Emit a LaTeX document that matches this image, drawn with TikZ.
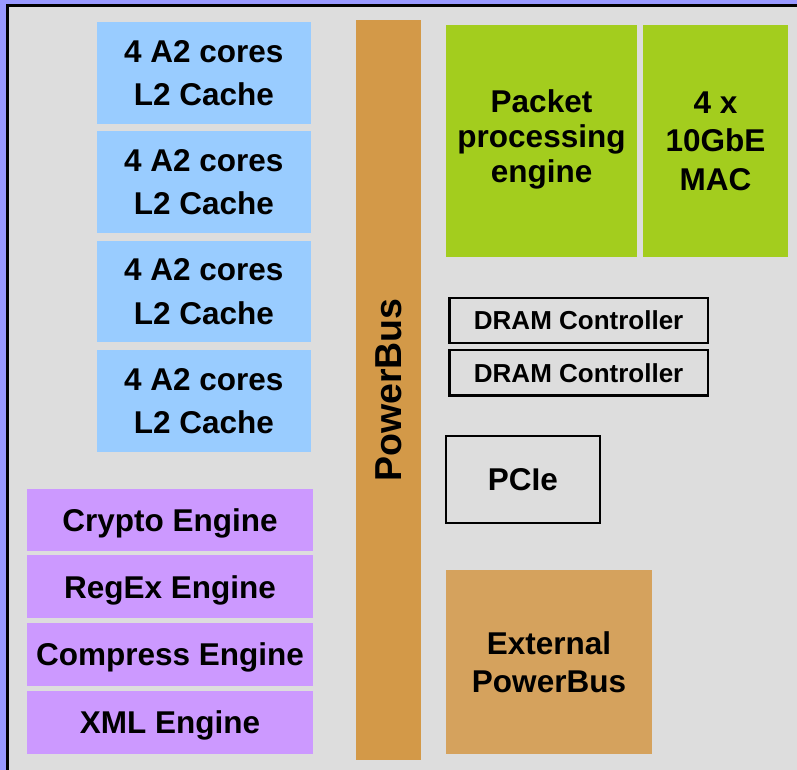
\documentclass[tikz,border=0pt]{standalone}
\usepackage{fontspec}
\setmainfont{Liberation Sans}
\definecolor{bgpurple}{RGB}{153,153,255}
\definecolor{panel}{RGB}{221,221,221}
\definecolor{coreblue}{RGB}{153,204,255}
\definecolor{netgreen}{RGB}{163,205,30}
\definecolor{busorange}{RGB}{211,153,72}
\definecolor{extorange}{RGB}{213,162,93}
\definecolor{engpurple}{RGB}{204,153,255}
\tikzset{
  blockbase/.style={inner sep=0pt, outer sep=0pt, anchor=north west, align=center,
    text depth=0pt, font=\bfseries\fontsize{31.5pt}{38pt}\selectfont},
  corebox/.style={blockbase, fill=coreblue, minimum width=214.3pt, minimum height=101.7pt,
    font=\bfseries\fontsize{31.5pt}{43.5pt}\selectfont},
  netbox/.style={blockbase, fill=netgreen, minimum height=231.5pt},
  engbox/.style={blockbase, fill=engpurple, minimum width=286pt},
  dramcbox/.style={blockbase, draw=black, line width=2.3pt, minimum width=258.3pt,
    font=\bfseries\fontsize{26pt}{30pt}\selectfont},
  pciebox/.style={blockbase, draw=black, line width=2.3pt},
  extbox/.style={blockbase, fill=extorange},
  busbar/.style={inner sep=0pt, outer sep=0pt, fill=busorange, rotate=90, text depth=0pt,
    font=\bfseries\fontsize{37.5pt}{40pt}\selectfont}
}
\begin{document}
\begin{tikzpicture}[x=1pt,y=-1pt]
\useasboundingbox (0,0) rectangle (797,770);
\fill[bgpurple] (0,0) rectangle (797,770);
\fill[panel] (7.5,5.5) rectangle (797,770);
\draw[line width=2.5pt] (7.5,770) -- (7.5,5.5) -- (797,5.5);

% cores
\node[corebox] (core1) at (96.7,22) {4 A2 cores\\L2 Cache};
\node[corebox] (core2) at (96.7,131.3) {4 A2 cores\\L2 Cache};
\node[corebox] (core3) at (96.7,240.7) {4 A2 cores\\L2 Cache};
\node[corebox] (core4) at (96.7,350) {4 A2 cores\\L2 Cache};

% engines
\node[engbox, minimum height=62.3pt] (crypto) at (27,489) {Crypto Engine};
\node[engbox, minimum height=62.7pt] (regex) at (27,555.3) {RegEx Engine};
\node[engbox, minimum height=62.4pt] (compress) at (27,623.3) {Compress Engine};
\node[engbox, minimum height=62.7pt] (xml) at (27,691) {XML Engine};

% power bus
\node[busbar, minimum width=740pt, minimum height=65pt] (bus) at (388.5,390) {PowerBus};

% network
\node[netbox, minimum width=191pt, text depth=9.2pt,
  font=\bfseries\fontsize{31.5pt}{35pt}\selectfont] (packet) at (446,25) {Packet\\processing\\engine};
\node[netbox, minimum width=145pt,
  font=\bfseries\fontsize{31.5pt}{38.5pt}\selectfont] (mac) at (643,25) {4 x\\10GbE\\MAC};

% memory and io
\node[dramcbox, minimum height=45.5pt] (dram1) at (449.5,297.8) {DRAM Controller};
\node[dramcbox, minimum height=45.2pt] (dram2) at (449.5,350.3) {DRAM Controller};
\node[pciebox, minimum width=153.5pt, minimum height=87.3pt] (pcie) at (446.2,436) {PCIe};
\node[extbox, minimum width=206pt, minimum height=184pt] (ext) at (446,570) {External\\PowerBus};
\end{tikzpicture}
\end{document}
